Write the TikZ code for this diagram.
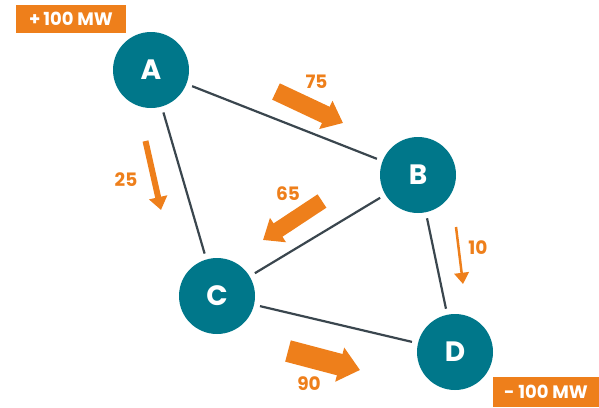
\documentclass[tikz,border=0pt]{standalone}
\usepackage{fontspec}
\setmainfont{Poppins}
\usepackage{tikz}
\usetikzlibrary{arrows.meta}
\definecolor{gridteal}{HTML}{00778A}
\definecolor{gridorange}{HTML}{EE7F1B}
\definecolor{gridink}{HTML}{3A464E}

\begin{document}
\begin{tikzpicture}[
  x=1pt, y=-1pt,
  bus/.style={circle, fill=gridteal, minimum size=76pt, inner sep=0pt,
    text=white, font=\fontsize{28}{28}\bfseries\selectfont},
  branch/.style={draw=gridink, line width=2.2pt, shorten <=6pt, shorten >=6pt},
  flow/.style={draw=gridorange, line width=#1,
    -{Triangle[length=10pt 0.5, width=12pt 1]}},
  flowlabel/.style={text=gridorange, font=\fontsize{18.5}{18}\bfseries\selectfont},
  injection/.style={fill=gridorange, text=white, inner sep=0pt,
    minimum width=110pt, minimum height=28pt,
    font=\fontsize{18}{18}\bfseries\selectfont},
  ]
  \useasboundingbox (0,0) rectangle (599,407);
  % buses
  \node[bus] (A) at (151,70) {A};
  \node[bus] (B) at (418,175) {B};
  \node[bus] (C) at (217,296) {C};
  \node[bus] (D) at (455,352) {D};
  % lines
  \draw[branch] (A) -- (B);
  \draw[branch] (A) -- (C);
  \draw[branch] (B) -- (C);
  \draw[branch] (B) -- (D);
  \draw[branch] (C) -- (D);
  % injections
  \node[injection] (inA) at (71,19) {+\kern3pt100 MW};
  \node[injection, minimum width=106pt, minimum height=30pt] (outD) at (546,392) {- 100 MW};
  % flows
  \coordinate (ab0) at (276,91.5);  \coordinate (ab1) at (343,123);
  \coordinate (ac0) at (145.5,141); \coordinate (ac1) at (161,210);
  \coordinate (bc0) at (322,201);   \coordinate (bc1) at (263,240);
  \coordinate (bd0) at (456,227);   \coordinate (bd1) at (463,284);
  \coordinate (cd0) at (288,351);   \coordinate (cd1) at (360,370);
  \draw[flow=18pt] (ab0) -- (ab1);
  \draw[flow=6pt] (ac0) -- (ac1);
  \draw[flow=16pt] (bc0) -- (bc1);
  \draw[flow=2.5pt] (bd0) -- (bd1);
  \draw[flow=22pt] (cd0) -- (cd1);
  \node[flowlabel] (fab) at (316.5,82) {75};
  \node[flowlabel] (fac) at (126,180) {25};
  \node[flowlabel] (fbc) at (288,194) {65};
  \node[flowlabel] (fbd) at (478,248) {10};
  \node[flowlabel] (fcd) at (309,384) {90};
\end{tikzpicture}
\end{document}
